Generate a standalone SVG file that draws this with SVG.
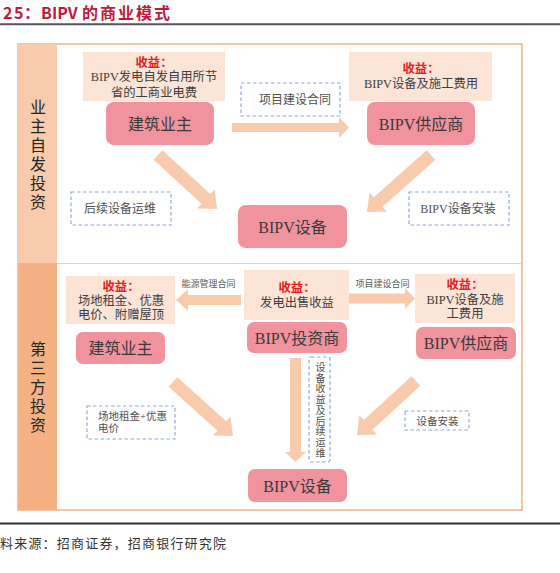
<svg xmlns="http://www.w3.org/2000/svg" width="560" height="573" viewBox="0 0 560 573">
<style>
text{font-family:"Liberation Serif","Noto Sans CJK SC",serif;fill:#404040}
.node{fill:#f0939d}
.nt{font-size:16px;text-anchor:middle;fill:#3a3a3a}
.rev{fill:#fce4d6}
.rt{font-size:12.3px;text-anchor:middle}
.red{fill:#e3201c;font-weight:bold}
.dash{fill:#fff;stroke:#8ea9db;stroke-width:1.2;stroke-dasharray:3.5 2.5}
.dt{font-size:12px;text-anchor:middle;fill:#505050}
.arr{fill:#f8cbad}
.sl{font-size:9px;text-anchor:middle;fill:#595959}
.side{font-size:16px;fill:#262626;font-family:"Noto Sans CJK SC","Liberation Serif",serif;writing-mode:vertical-rl;letter-spacing:3px}
.vt{font-size:10px;fill:#505050;writing-mode:vertical-rl;letter-spacing:0.75px}
.tt{fill:#be1a3c;font-family:"Noto Sans CJK SC",sans-serif;font-weight:bold;font-size:16px}
</style>
<rect width="560" height="573" fill="#fff"/>
<g id="title">
<text class="tt" x="3" y="19" letter-spacing="1.5">25</text>
<text class="tt" x="24" y="19">：</text>
<text class="tt" x="41" y="19">BIPV</text>
<text class="tt" x="82" y="19" letter-spacing="2">的商业模式</text>
</g>
<line x1="0" y1="24.3" x2="560" y2="24.3" stroke="#555" stroke-width="2"/>
<g id="frame">
<rect x="18" y="44" width="504" height="466" fill="#fff" stroke="#f4b183" stroke-width="1.5"/>
<rect x="18" y="44" width="39" height="219" fill="#f8cbad"/>
<rect x="18" y="263" width="39" height="247" fill="#f4b183"/>
<line x1="57" y1="263.5" x2="522" y2="263.5" stroke="#f8cbad" stroke-width="1.2"/>
</g>
<g id="side-top">
<text class="side" x="38" y="99">业主自发投资</text>
</g>
<g id="side-bottom">
<text class="side" x="38" y="341">第三方投资</text>
</g>
<g id="connectors">
<polygon class="arr" points="232,123 339,123 339,117 349,127.5 339,138 339,132 232,132"/>
<polygon class="arr" transform="translate(158,155) rotate(42.5)" points="0,-6.5 65,-6.5 65,-13 80,0 65,13 65,6.5 0,6.5"/>
<polygon class="arr" transform="translate(431,155) rotate(138.3)" points="0,-6.5 70.7,-6.5 70.7,-13 85.7,0 70.7,13 70.7,6.5 0,6.5"/>
<polygon class="arr" points="241,295 188,295 188,289 176,300 188,311 188,305 241,305"/>
<polygon class="arr" points="349,293.5 405,293.5 405,288 415,298.5 405,309 405,303.5 349,303.5"/>
<polygon class="arr" points="290,358 301,358 301,452 306,452 295.5,462 285,452 290,452"/>
<polygon class="arr" transform="translate(173,382) rotate(42)" points="0,-6.5 65.7,-6.5 65.7,-13 80.7,0 65.7,13 65.7,6.5 0,6.5"/>
<polygon class="arr" transform="translate(416,381) rotate(137.5)" points="0,-6.5 65,-6.5 65,-13 80,0 65,13 65,6.5 0,6.5"/>
<text class="sl" x="208.5" y="287.3">能源管理合同</text>
<text class="sl" x="382.5" y="287.3">项目建设合同</text>
</g>
<g id="rev-owner-top">
<rect class="rev" x="83" y="52" width="142" height="49"/>
<text class="rt red" x="154" y="66.5">收益：</text>
<text class="rt" x="154" y="81">BIPV发电自发自用所节</text>
<text class="rt" x="154" y="96.5">省的工商业电费</text>
</g>
<g id="owner-top">
<rect class="node" x="106" y="102" width="108" height="43" rx="8"/>
<text class="nt" x="160" y="129.8">建筑业主</text>
</g>
<g id="contract-top">
<rect class="dash" x="241" y="83" width="99" height="33"/>
<text class="dt" x="295" y="104.3">项目建设合同</text>
</g>
<g id="rev-supplier-top">
<rect class="rev" x="349" y="52" width="143" height="49"/>
<text class="rt red" x="421" y="73">收益：</text>
<text class="rt" x="421" y="88">BIPV设备及施工费用</text>
</g>
<g id="supplier-top">
<rect class="node" x="367" y="102" width="108" height="43" rx="8"/>
<text class="nt" x="421" y="129.8">BIPV供应商</text>
</g>
<g id="om-top">
<rect class="dash" x="71" y="192" width="100" height="33"/>
<text class="dt" x="120" y="213.3">后续设备运维</text>
</g>
<g id="install-top">
<rect class="dash" x="409" y="192" width="100" height="33"/>
<text class="dt" x="458" y="213.3">BIPV设备安装</text>
</g>
<g id="device-top">
<rect class="node" x="238" y="205" width="109" height="43" rx="8"/>
<text class="nt" x="292.5" y="232.8">BIPV设备</text>
</g>
<g id="rev-owner-bottom">
<rect class="rev" x="66" y="276" width="109" height="48"/>
<text class="rt red" x="121" y="290.5">收益：</text>
<text class="rt" x="121" y="305">场地租金、优惠</text>
<text class="rt" x="121" y="319">电价、附赠屋顶</text>
</g>
<g id="owner-bottom">
<rect class="node" x="76" y="332" width="89" height="32" rx="7"/>
<text class="nt" x="120.5" y="353.8">建筑业主</text>
</g>
<g id="rev-investor">
<rect class="rev" x="244" y="270" width="105" height="50"/>
<text class="rt red" x="297" y="292">收益：</text>
<text class="rt" x="297" y="306.8">发电出售收益</text>
</g>
<g id="investor">
<rect class="node" x="247" y="322" width="100" height="31" rx="7"/>
<text class="nt" x="297" y="343.8">BIPV投资商</text>
</g>
<g id="rev-supplier-bottom">
<rect class="rev" x="415" y="274" width="100" height="49"/>
<text class="rt red" x="465" y="288.8">收益：</text>
<text class="rt" x="465" y="304">BIPV设备及施</text>
<text class="rt" x="465" y="318.3">工费用</text>
</g>
<g id="supplier-bottom">
<rect class="node" x="416" y="327" width="100" height="32" rx="7"/>
<text class="nt" x="466" y="348.8">BIPV供应商</text>
</g>
<g id="om-bottom">
<rect class="dash" x="309" y="357" width="21" height="105" rx="2"/>
<text class="vt" x="319.5" y="362">设备收益及后续运维</text>
</g>
<g id="rent-bottom">
<rect class="dash" x="87" y="406" width="88" height="33"/>
<text class="dt" x="98" y="420.3" style="font-size:10.5px;text-anchor:start">场地租金+优惠</text>
<text class="dt" x="98" y="431.8" style="font-size:10.5px;text-anchor:start">电价</text>
</g>
<g id="install-bottom">
<rect class="dash" x="405" y="411" width="64" height="19"/>
<text class="dt" x="437.5" y="424.8" style="font-size:10.5px">设备安装</text>
</g>
<g id="device-bottom">
<rect class="node" x="248" y="469" width="99" height="33" rx="7"/>
<text class="nt" x="297.5" y="491.8">BIPV设备</text>
</g>
<line x1="0" y1="523.5" x2="560" y2="523.5" stroke="#333" stroke-width="2"/>
<text x="0" y="548" style="font-size:13px;fill:#333" letter-spacing="1.2">料来源：招商证券，招商银行研究院</text>
</svg>
